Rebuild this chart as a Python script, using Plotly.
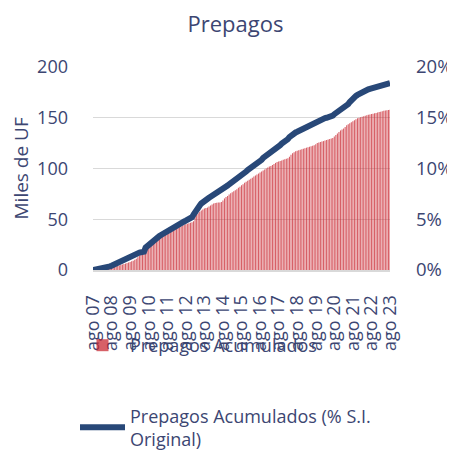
import plotly.graph_objects as go

# Spanish month abbreviations and year span (ago 07 .. ago 23)
month_abbr = ["ene", "feb", "mar", "abr", "may", "jun", "jul", "ago", "sept", "oct", "nov", "dic"]
start_year, start_month = 2007, 8
end_year, end_month = 2023, 8

categories = []
y, m = start_year, start_month
while (y, m) <= (end_year, end_month):
    categories.append(f"{month_abbr[m-1]} {y % 100:02d}")
    m += 1
    if m > 12:
        m = 1
        y += 1

# Prepagos Acumulados (Miles de UF), monthly
prepagos_acum = [
    0, 0.2, 0.4, 0.6, 0.9,                                                # 2007
    1.1, 1.3, 1.6, 1.9, 2.2, 2.5, 2.8, 3.0, 3.2, 3.4, 3.7, 4.0,           # 2008
    4.4, 4.9, 5.3, 5.8, 6.3, 6.9, 7.4, 7.9, 8.5, 9.2, 10.0, 11.0,         # 2009
    12.5, 14.0, 15.5, 17.0, 19.5, 20.5, 21.5, 22.5, 23.5, 25.0, 26.5, 28.0,  # 2010
    29.0, 30.0, 31.0, 32.0, 33.0, 34.0, 35.0, 36.5, 37.5, 38.5, 39.5, 40.0,  # 2011
    40.5, 41.0, 41.5, 42.0, 42.8, 43.5, 44.5, 45.0, 45.5, 46.0, 46.5, 47.0,  # 2012
    48.0, 52.0, 54.5, 56.0, 57.5, 58.5, 59.5, 60.5, 61.0, 61.5, 62.5, 63.5,  # 2013
    64.5, 65.5, 66.0, 66.2, 66.4, 66.6, 67.0, 68.5, 70.5, 72.0, 73.0, 74.5,  # 2014
    75.5, 76.5, 77.5, 78.5, 79.5, 81.0, 82.0, 83.5, 84.5, 86.0, 87.0, 88.0,  # 2015
    89.0, 90.0, 91.0, 92.0, 93.0, 94.0, 95.0, 96.0, 97.0, 98.0, 99.0, 100.0,  # 2016
    101.0, 102.0, 102.5, 103.5, 104.5, 105.5, 106.5, 107.0, 107.5, 108.0, 108.5, 109.0,  # 2017
    109.5, 110.0, 111.5, 113.5, 115.0, 116.0, 117.0, 117.5, 118.0, 118.5, 119.0, 119.5,  # 2018
    120.0, 120.5, 121.0, 121.5, 122.0, 122.5, 123.0, 124.0, 125.0, 125.5, 126.0, 126.5,  # 2019
    127.0, 127.5, 128.0, 128.5, 129.0, 129.5, 130.0, 131.5, 133.0, 134.5, 136.0, 137.5,  # 2020
    138.5, 139.5, 141.0, 142.5, 143.5, 144.5, 145.5, 146.5, 147.5, 148.5, 149.5, 150.0,  # 2021
    150.5, 151.0, 151.5, 152.0, 152.5, 153.0, 153.3, 153.6, 154.0, 154.4, 154.8, 155.2,  # 2022
    155.6, 156.0, 156.4, 156.8, 157.1, 157.4, 157.7, 158.0,                # 2023
]

# Prepagos Acumulados (% S.I. Original), monthly, in percent
prepagos_pct = [
    0.00, 0.02, 0.04, 0.06, 0.08,                                          # 2007
    0.10, 0.13, 0.16, 0.20, 0.25, 0.30, 0.36, 0.42, 0.50, 0.57, 0.63, 0.70,  # 2008
    0.76, 0.82, 0.88, 0.94, 1.00, 1.07, 1.15, 1.25, 1.35, 1.50, 1.62, 1.68,  # 2009
    1.70, 1.72, 1.74, 1.76, 1.80, 2.20, 2.35, 2.45, 2.60, 2.72, 2.85, 2.98,  # 2010
    3.10, 3.22, 3.35, 3.45, 3.55, 3.65, 3.75, 3.85, 3.95, 4.05, 4.12, 4.20,  # 2011
    4.28, 4.36, 4.45, 4.55, 4.62, 4.70, 4.78, 4.86, 4.94, 5.02, 5.10, 5.20,  # 2012
    5.45, 5.75, 5.95, 6.15, 6.35, 6.55, 6.70, 6.82, 6.92, 7.02, 7.12, 7.22,  # 2013
    7.32, 7.42, 7.52, 7.60, 7.64, 7.68, 7.75, 7.90, 8.05, 8.20, 8.32, 8.45,  # 2014
    8.55, 8.65, 8.75, 8.85, 8.95, 9.05, 9.15, 9.25, 9.35, 9.50, 9.70, 9.85,  # 2015
    9.95, 10.05, 10.15, 10.25, 10.35, 10.45, 10.55, 10.65, 10.85, 11.05, 11.15, 11.25,  # 2016
    11.35, 11.45, 11.55, 11.65, 11.75, 11.85, 11.95, 12.10, 12.30, 12.45, 12.55, 12.62,  # 2017
    12.66, 12.90, 13.10, 13.25, 13.35, 13.45, 13.55, 13.62, 13.70, 13.78, 13.85, 13.92,  # 2018
    14.00, 14.08, 14.16, 14.25, 14.35, 14.45, 14.55, 14.62, 14.70, 14.78, 14.86, 14.92,  # 2019
    14.95, 14.97, 15.00, 15.02, 15.05, 15.10, 15.20, 15.35, 15.45, 15.55, 15.70, 15.85,  # 2020
    15.95, 16.00, 16.05, 16.15, 16.35, 16.55, 16.75, 16.90, 17.05, 17.15, 17.25, 17.35,  # 2021
    17.45, 17.55, 17.62, 17.68, 17.74, 17.80, 17.85, 17.90, 17.95, 18.00, 18.05, 18.10,  # 2022
    18.14, 18.18, 18.22, 18.26, 18.30, 18.34, 18.38, 18.42,                # 2023
]

tick_labels = ["ago 07", "ago 08", "ago 09", "ago 10", "ago 11", "ago 12", "ago 13", "ago 14",
               "ago 15", "ago 16", "ago 17", "ago 18", "ago 19", "ago 20", "ago 21", "ago 22", "ago 23"]

left_ticks = [0, 50, 100, 150, 200]
right_ticks = [0, 0.05, 0.10, 0.15, 0.20]

TXT = "#3C4672"
FONT = "Open Sans"
W, H = 455, 453

fig = go.Figure()
fig.add_trace(go.Bar(
    x=categories, y=prepagos_acum, name="Prepagos Acumulados",
    marker=dict(color="rgba(200,35,45,0.72)", line=dict(width=0)),
    legendgroup="a", showlegend=True,
))
fig.add_trace(go.Scatter(
    x=categories, y=[v / 100 for v in prepagos_pct], yaxis="y2",
    name="Prepagos Acumulados (% S.I.<br>Original)", mode="lines",
    line=dict(color="#284878", width=6),
    legendgroup="b", showlegend=True,
))

fig.update_layout(
    width=W, height=H,
    margin=dict(l=85, r=73, t=59, b=191, autoexpand=False),
    paper_bgcolor="white", plot_bgcolor="white",
    font=dict(family=FONT, color=TXT, size=18),
    showlegend=True,
    title=dict(text="Prepagos", x=0.5, xanchor="center", y=1 - 16 / H, yanchor="middle",
               yref="container", font=dict(size=22, color=TXT, family=FONT)),
    bargap=0.3,
    xaxis=dict(
        type="category", range=[0, len(categories) - 1],
        tickmode="array", tickvals=tick_labels, ticktext=tick_labels,
        tickangle=-90, showgrid=False, ticks="", ticklabelstandoff=16,
        showline=True, linecolor="#D9D9D9", linewidth=2,
        tickfont=dict(size=18, color=TXT),
    ),
    yaxis=dict(
        range=[0, 200], tickvals=left_ticks, showgrid=True, gridcolor="#D9D9D9", gridwidth=1,
        zeroline=False, ticks="", ticklabelstandoff=24,
        tickfont=dict(size=18, color=TXT),
    ),
    yaxis2=dict(
        range=[0, 0.20], tickvals=right_ticks, tickformat=".0%", overlaying="y", side="right",
        showgrid=False, zeroline=False, ticks="", ticklabelstandoff=25,
        tickfont=dict(size=18.5, color=TXT),
    ),
    legend=dict(x=67 / W, xref="container", xanchor="left", y=1 - 319 / H, yref="container",
                yanchor="top", itemwidth=45, tracegroupgap=44, traceorder="grouped",
                bgcolor="rgba(0,0,0,0)", font=dict(size=18, color=TXT, family=FONT)),
    annotations=[dict(
        text="Miles de UF", textangle=-90, showarrow=False,
        xref="paper", x=0, xshift=12 - 85, xanchor="center",
        yref="paper", y=0.5, yanchor="middle",
        font=dict(size=19, color=TXT, family=FONT),
    )],
)

fig.write_html("out.html")
